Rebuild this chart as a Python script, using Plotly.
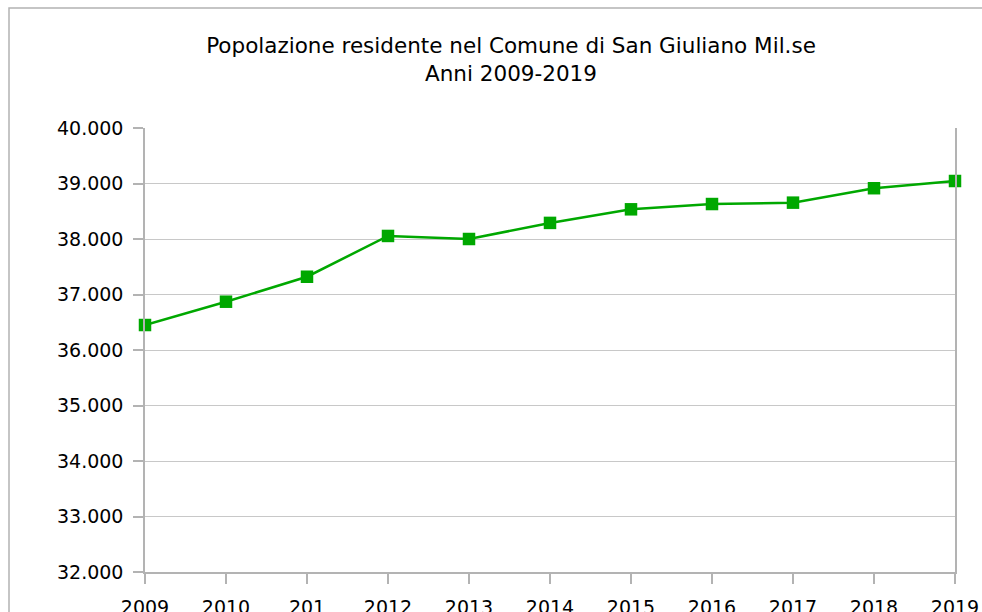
import plotly.graph_objects as go

years = [2009, 2010, 2011, 2012, 2013, 2014, 2015, 2016, 2017, 2018, 2019]
tick_labels = ["2009", "2010", "201", "2012", "2013", "2014", "2015", "2016", "2017", "2018", "2019"]
population = [36450, 36870, 37320, 38055, 38000, 38290, 38535, 38630, 38655, 38915, 39045]

W, H = 982, 612
L, R, T, B = 145, 27, 128, 40
pw, ph = W - L - R, H - T - B

fig = go.Figure()
fig.add_trace(go.Scatter(
    x=years, y=population, mode="lines+markers",
    line=dict(color="#00a800", width=2.5),
    marker=dict(symbol="square", size=12.5, color="#00a800"),
    cliponaxis=False, showlegend=False,
))

fig.update_layout(
    width=W, height=H,
    margin=dict(l=L, r=R, t=T, b=B, autoexpand=False),
    paper_bgcolor="white", plot_bgcolor="white",
    separators=",.",
    font=dict(family="DejaVu Sans", color="#000000"),
    title=dict(
        text="Popolazione residente nel Comune di San Giuliano Mil.se<br>Anni 2009-2019",
        x=511 / W, xref="container", xanchor="center",
        y=1 - 53 / H, yref="container", yanchor="top",
        font=dict(family="DejaVu Sans", size=21.5, color="#000000"),
    ),
    xaxis=dict(
        range=[2009, 2019], tickvals=years, ticktext=tick_labels,
        showgrid=False, zeroline=False, automargin=False,
        showline=True, linecolor="#b3b3b3", linewidth=1.5,
        ticks="outside", ticklen=10, tickcolor="#b3b3b3", tickwidth=1.5,
        ticklabelstandoff=7,
        tickfont=dict(size=19), fixedrange=True,
    ),
    yaxis=dict(
        range=[32000, 40000], dtick=1000, tickformat=",d",
        showgrid=True, gridcolor="#c8c8c8", gridwidth=1.2,
        zeroline=False, automargin=False,
        showline=True, linecolor="#b3b3b3", linewidth=1.5, mirror=True,
        ticks="outside", ticklen=10, tickcolor="#b3b3b3", tickwidth=1.5,
        ticklabelstandoff=6,
        tickfont=dict(size=19),
    ),
    shapes=[dict(
        type="rect", xref="paper", yref="paper",
        x0=(9 - L) / pw, x1=(W + 20 - L) / pw,
        y0=-0.5, y1=(H - B - 8) / ph,
        line=dict(color="#b3b3b3", width=1.5), fillcolor="rgba(0,0,0,0)",
        layer="below",
    )],
)

fig.write_html(
    "out.html",
    config={"displayModeBar": False},
    post_script="document.body.style.margin='0';document.body.style.overflow='hidden';",
)
